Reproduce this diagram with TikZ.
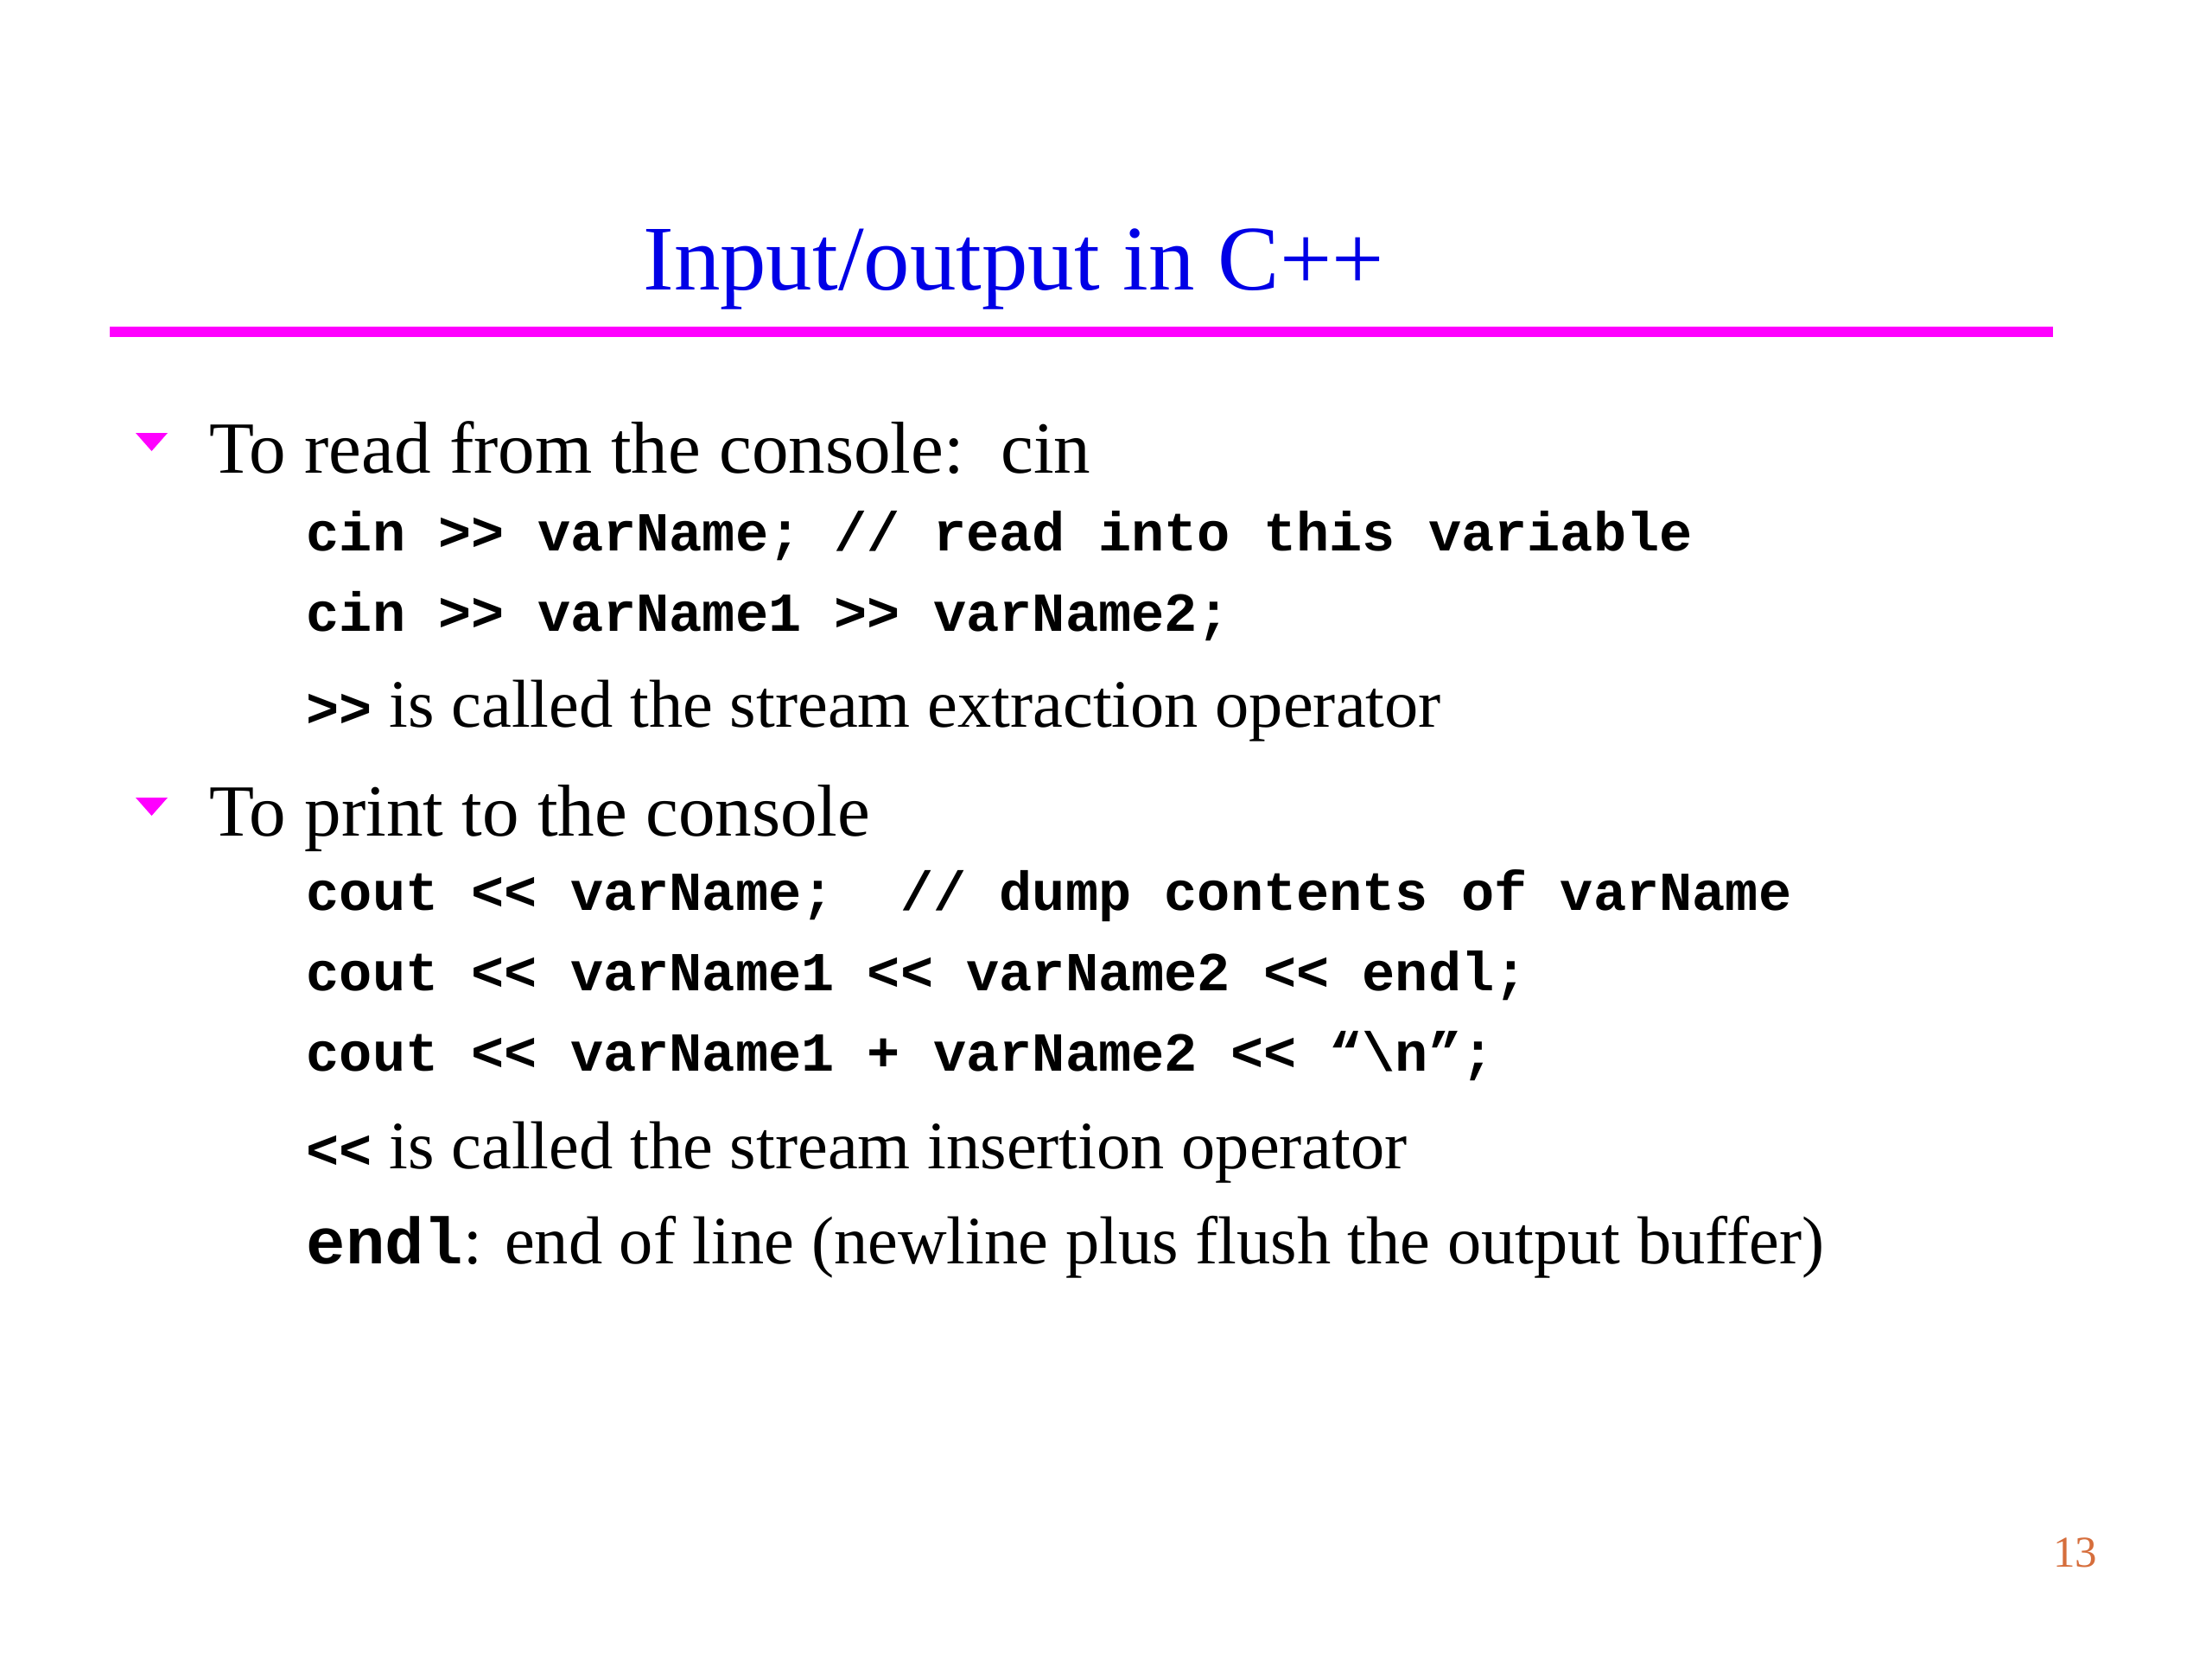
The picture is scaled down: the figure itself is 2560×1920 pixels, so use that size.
\documentclass[tikz,border=0pt]{standalone}
\usepackage{fontspec}
\setmainfont{Liberation Serif}
\setmonofont{Liberation Mono}
\usepackage{xcolor}
\usetikzlibrary{positioning}
\definecolor{titleblue}{RGB}{0,0,230}
\definecolor{rulemagenta}{RGB}{255,0,255}
\definecolor{pagenum}{RGB}{214,110,60}
\newcommand{\op}[1]{{\fontsize{18.1}{22}\selectfont\ttfamily\bfseries #1}}

\begin{document}
\begin{tikzpicture}[x=0.01cm, y=-0.01cm,
    txt/.style={anchor=base west, inner sep=0pt, font=\fontsize{24.2}{29}\selectfont},
    subtxt/.style={anchor=base west, inner sep=0pt, font=\fontsize{22.3}{27}\selectfont},
    codeline/.style={anchor=base west, inner sep=0pt, font=\fontsize{18.1}{22}\selectfont\ttfamily\bfseries}]
  \useasboundingbox (0,0) rectangle (2560,1920);
  % title and rule
  \node [anchor=base, inner sep=0pt, text=titleblue, font=\fontsize{30.4}{36}\selectfont] (title) at (1173,335) {Input/output in C++};
  \draw [rulemagenta, line width=3.4pt] (127,384) -- (2376,384);
  % bullets
  \fill [rulemagenta] (157,501) -- (194,501) -- (175.5,522) -- cycle;
  \fill [rulemagenta] (157,923) -- (194,923) -- (175.5,944) -- cycle;
  % reading
  \node [txt] (read) at (242,547) {To read from the console:\ \ cin};
  \node [codeline] (cin1) at (354,637) {cin >> varName; // read into this variable};
  \node [codeline] (cin2) at (354,730) {cin >> varName1 >> varName2;};
  \node [subtxt] (extract) at (354,841) {\op{>>} is called the stream extraction operator};
  % printing
  \node [txt] (print) at (242,967) {To print to the console};
  \node [codeline] (cout1) at (354,1053) {cout << varName;\ \ // dump contents of varName};
  \node [codeline] (cout2) at (354,1146) {cout << varName1 << varName2 << endl;};
  \node [codeline] (cout3) at (354,1239) {cout << varName1 + varName2 << “\textbackslash n”;};
  \node [subtxt] (insert) at (354,1352) {\op{<<} is called the stream insertion operator};
  \node [subtxt] (endl) at (354,1462) {{\fontsize{21.5}{26}\selectfont\ttfamily\bfseries endl}: end of line (newline plus flush the output buffer)};
  % page number
  \node [anchor=base east, inner sep=0pt, text=pagenum, font=\fontsize{14.5}{17}\selectfont] (page) at (2428,1813) {13};
\end{tikzpicture}
\end{document}
